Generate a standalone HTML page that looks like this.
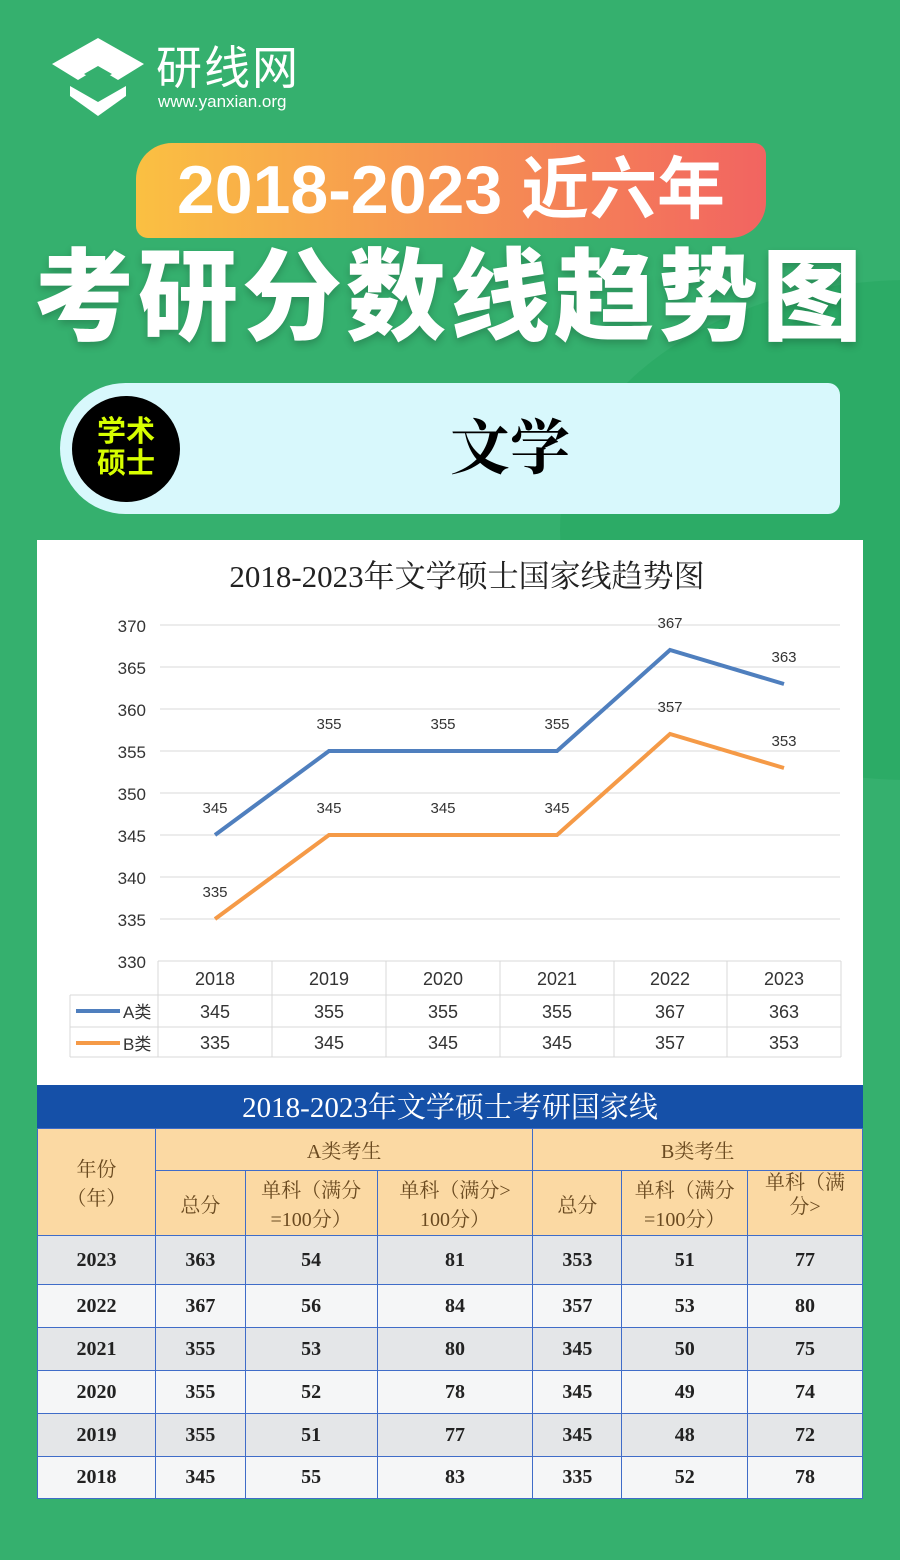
<!DOCTYPE html>
<html><head><meta charset="utf-8"><style>
*{margin:0;padding:0;box-sizing:border-box}
body{width:900px;height:1560px;background:#35b06e;position:relative;overflow:hidden;font-family:"Liberation Sans","Noto Sans CJK SC",sans-serif}
.abs{position:absolute}
table{border-collapse:collapse;position:absolute;left:37px;top:1128px;width:826px;font-family:"Liberation Serif","Noto Serif CJK SC",serif;color:#222}
td{border:1px solid #3f6cc8;text-align:center;font-size:20px;font-weight:bold}
.h td{background:#fbd9a3;color:#6a4a20;font-weight:normal}
</style></head><body>
<div class="abs" style="left:560px;top:280px;width:700px;height:500px;border-radius:50%;background:#1ea458;opacity:.35"></div>
<svg class="abs" style="left:48px;top:36px" width="100" height="82" viewBox="0 0 100 82">
<polygon points="50,2 96,28 70,44 50,32 30,44 4,28" fill="#fff"/>
<polygon points="22,50 50,66 78,50 78,60 50,80 22,60" fill="#fff"/>
<polygon points="36,38 50,30 64,38 50,46" fill="#35b06e"/>
</svg>
<div class="abs" style="left:156px;top:40px;color:#fff;font-size:46px;line-height:56px;letter-spacing:2px">研线网</div>
<div class="abs" style="left:158px;top:92px;color:#fff;font-size:17px">www.yanxian.org</div>
<div class="abs" style="left:136px;top:143px;width:630px;height:95px;border-radius:36px 12px 36px 12px;background:linear-gradient(90deg,#fac042,#f26461)"></div>
<div class="abs" style="left:136px;top:150px;width:630px;text-align:center;color:#fff;font-size:68px;font-weight:bold;line-height:80px">2018-2023 近六年</div>
<div class="abs" style="left:0;top:238px;width:900px;text-align:center;color:#fff;font-size:100px;font-weight:900;line-height:120px;letter-spacing:4px;text-shadow:0 4px 8px rgba(0,0,0,.2)">考研分数线趋势图</div>
<div class="abs" style="left:60px;top:383px;width:780px;height:131px;border-radius:66px 12px 12px 66px;background:#d8f8fc"></div>
<div class="abs" style="left:72px;top:396px;width:108px;height:106px;border-radius:50%;background:#000;color:#d7ff00;font-size:29px;font-weight:bold;line-height:32px;text-align:center;padding-top:20px">学术<br>硕士</div>
<div class="abs" style="left:400px;top:413px;width:220px;text-align:center;font-family:'Liberation Serif','Noto Serif CJK SC',serif;font-size:60px;font-weight:bold;line-height:72px">文学</div>
<div class="abs" style="left:37px;top:540px;width:826px;height:545px;background:#fff"></div>
<svg class="abs" style="left:0;top:0" width="900" height="1090" font-family="Liberation Sans,Noto Sans CJK SC,sans-serif">
<text x="467" y="587" text-anchor="middle" font-size="31" font-family="Liberation Serif,Noto Serif CJK SC,serif" fill="#222">2018-2023年文学硕士国家线趋势图</text>
<g stroke="#d9d9d9" stroke-width="1">
<line x1="160" x2="840" y1="625" y2="625"/><line x1="160" x2="840" y1="667" y2="667"/><line x1="160" x2="840" y1="709" y2="709"/><line x1="160" x2="840" y1="751" y2="751"/><line x1="160" x2="840" y1="793" y2="793"/><line x1="160" x2="840" y1="835" y2="835"/><line x1="160" x2="840" y1="877" y2="877"/><line x1="160" x2="840" y1="919" y2="919"/>
<line x1="158" x2="841" y1="961" y2="961"/><line x1="70" x2="841" y1="995" y2="995"/><line x1="70" x2="841" y1="1027" y2="1027"/><line x1="70" x2="841" y1="1057" y2="1057"/>
<line x1="70" x2="70" y1="995" y2="1057"/>
<line x1="158" x2="158" y1="961" y2="1057"/><line x1="272" x2="272" y1="961" y2="1057"/><line x1="386" x2="386" y1="961" y2="1057"/><line x1="500" x2="500" y1="961" y2="1057"/><line x1="614" x2="614" y1="961" y2="1057"/><line x1="727" x2="727" y1="961" y2="1057"/><line x1="841" x2="841" y1="961" y2="1057"/>
</g>
<g font-size="17" fill="#333" text-anchor="end">
<text x="146" y="632">370</text><text x="146" y="674">365</text><text x="146" y="716">360</text><text x="146" y="758">355</text><text x="146" y="800">350</text><text x="146" y="842">345</text><text x="146" y="884">340</text><text x="146" y="926">335</text><text x="146" y="968">330</text>
</g>
<polyline points="215,835 329,751 443,751 557,751 670,650 784,684" fill="none" stroke="#4f7fbe" stroke-width="4"/>
<polyline points="215,919 329,835 443,835 557,835 670,734 784,768" fill="none" stroke="#f59a47" stroke-width="4"/>
<g font-size="15" fill="#333" text-anchor="middle">
<text x="215" y="813">345</text><text x="329" y="729">355</text><text x="443" y="729">355</text><text x="557" y="729">355</text><text x="670" y="628">367</text><text x="784" y="662">363</text>
<text x="215" y="897">335</text><text x="329" y="813">345</text><text x="443" y="813">345</text><text x="557" y="813">345</text><text x="670" y="712">357</text><text x="784" y="746">353</text>
</g>
<g font-size="18" fill="#333" text-anchor="middle">
<text x="215" y="985">2018</text><text x="329" y="985">2019</text><text x="443" y="985">2020</text><text x="557" y="985">2021</text><text x="670" y="985">2022</text><text x="784" y="985">2023</text>
<text x="215" y="1018">345</text><text x="329" y="1018">355</text><text x="443" y="1018">355</text><text x="557" y="1018">355</text><text x="670" y="1018">367</text><text x="784" y="1018">363</text>
<text x="215" y="1049">335</text><text x="329" y="1049">345</text><text x="443" y="1049">345</text><text x="557" y="1049">345</text><text x="670" y="1049">357</text><text x="784" y="1049">353</text>
</g>
<line x1="76" x2="120" y1="1011" y2="1011" stroke="#4f7fbe" stroke-width="4"/>
<line x1="76" x2="120" y1="1043" y2="1043" stroke="#f59a47" stroke-width="4"/>
<text x="123" y="1018" font-size="17" fill="#333">A类</text><text x="123" y="1050" font-size="17" fill="#333">B类</text>
</svg>
<div class="abs" style="left:37px;top:1085px;width:826px;height:43px;background:#1550a8;color:#fff;text-align:center;font-family:'Liberation Serif','Noto Serif CJK SC',serif;font-size:29px;line-height:46px">2018-2023年文学硕士考研国家线</div>
<table>
<colgroup><col style="width:118px"><col style="width:90px"><col style="width:132px"><col style="width:156px"><col style="width:89px"><col style="width:126px"><col style="width:115px"></colgroup>
<tr class="h" style="height:42px"><td rowspan="2">年份<br>（年）</td><td colspan="3">A类考生</td><td colspan="3">B类考生</td></tr>
<tr class="h" style="height:65px"><td>总分</td><td>单科（满分<br>=100分）</td><td>单科（满分&gt;<br>100分）</td><td>总分</td><td>单科（满分<br>=100分）</td><td style="line-height:24px;vertical-align:top;overflow:hidden">单科（满<br>分&gt;</td></tr>
<tr style="height:49px;background:#e4e6e8"><td>2023</td><td>363</td><td>54</td><td>81</td><td>353</td><td>51</td><td>77</td></tr>
<tr style="height:43px;background:#f5f6f7"><td>2022</td><td>367</td><td>56</td><td>84</td><td>357</td><td>53</td><td>80</td></tr>
<tr style="height:43px;background:#e4e6e8"><td>2021</td><td>355</td><td>53</td><td>80</td><td>345</td><td>50</td><td>75</td></tr>
<tr style="height:43px;background:#f5f6f7"><td>2020</td><td>355</td><td>52</td><td>78</td><td>345</td><td>49</td><td>74</td></tr>
<tr style="height:43px;background:#e4e6e8"><td>2019</td><td>355</td><td>51</td><td>77</td><td>345</td><td>48</td><td>72</td></tr>
<tr style="height:42px;background:#f5f6f7"><td>2018</td><td>345</td><td>55</td><td>83</td><td>335</td><td>52</td><td>78</td></tr>
</table>
</body></html>
